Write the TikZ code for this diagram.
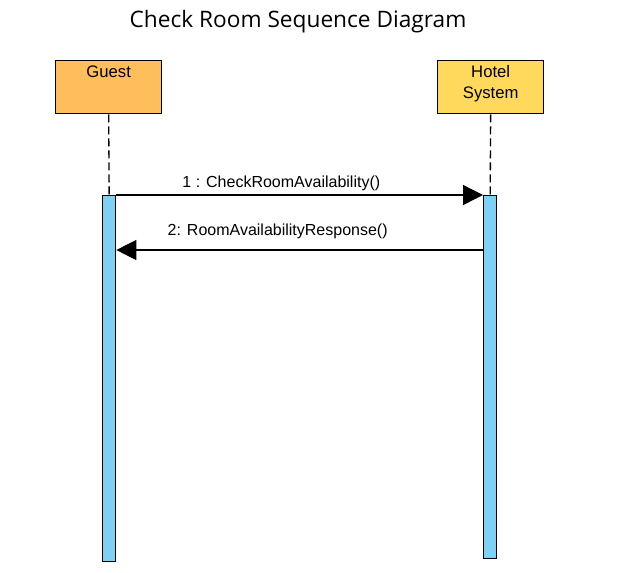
\documentclass[tikz,border=0pt]{standalone}
\usepackage{fontspec}
\setmainfont{Liberation Sans}
\newfontfamily\titlefont{Open Sans}
\usetikzlibrary{arrows.meta,positioning}
\definecolor{guestfill}{RGB}{255,190,92}
\definecolor{hotelfill}{RGB}{255,217,92}
\definecolor{actfill}{RGB}{127,208,245}
\begin{document}
\begin{tikzpicture}[x=0.75pt, y=-0.75pt,
  actor/.style={draw, line width=1pt, minimum width=79.5pt, minimum height=39.75pt, anchor=north west, inner sep=0pt},
  actorlbl/.style={anchor=north, align=center, inner sep=4pt, font=\fontsize{12.5}{15.75}\selectfont},
  act/.style={draw, fill=actfill, line width=1pt, minimum width=9.75pt, anchor=north west, inner sep=0pt},
  life/.style={line width=1pt, dash pattern=on 6pt off 3pt},
  msg/.style={line width=1pt, -{Triangle[length=15pt,width=15pt]}},
  msglbl/.style={font=\fontsize{12}{14}\selectfont, above, inner sep=3pt}
]
\useasboundingbox (0,0) rectangle (618,572);
\node[font=\titlefont\fontsize{17}{20}\selectfont] (title) at (298,22) {Check Room Sequence Diagram};

% actors
\node[actor, fill=guestfill] (guest) at (55,60) {};
\node[actorlbl] (guestlbl) at (guest.north) {Guest};
\node[actor, fill=hotelfill] (hotel) at (437,60) {};
\node[actorlbl] (hotellbl) at (hotel.north) {Hotel\\System};

% activations
\node[act, minimum height=274.5pt] (gact) at (102,195) {};
\node[act, minimum height=272.25pt] (hact) at (483,195) {};

% lifelines
\draw[life] (guest.south) -- (gact.north);
\draw[life] (hotel.south) -- (hact.north);

% messages
\draw[msg] (gact.north east) -- (hact.north west)
  node[msglbl, pos=0.45] (m1) {1 : CheckRoomAvailability()};
\draw[msg] ([yshift=-41.25pt]hact.north west) -- ([yshift=-41.25pt]gact.north east)
  node[msglbl, pos=0.56, yshift=5pt] (m2) {2: RoomAvailabilityResponse()};
\end{tikzpicture}
\end{document}
